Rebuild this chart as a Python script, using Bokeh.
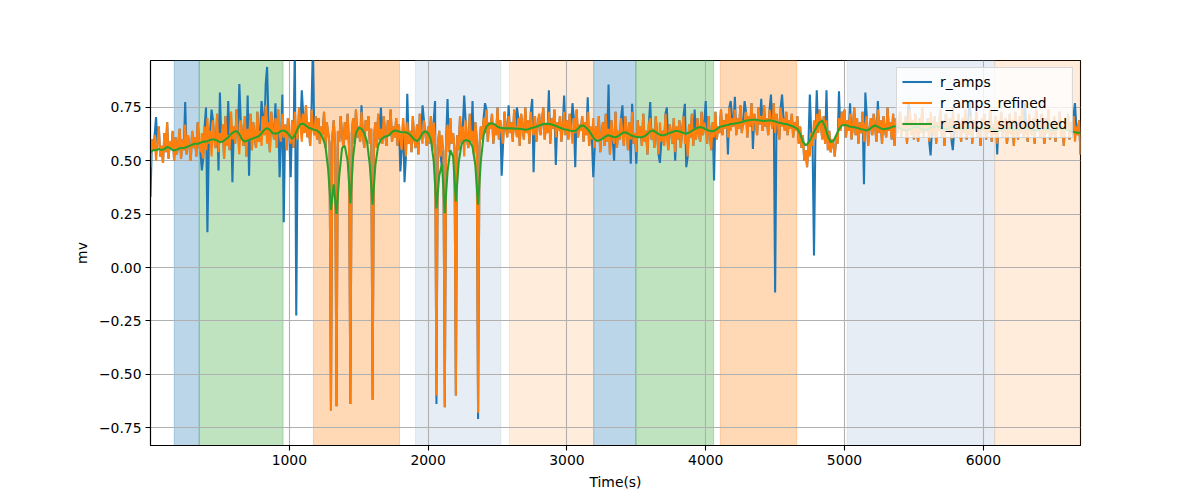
from bokeh.plotting import figure
from bokeh.models import Range1d, BoxAnnotation, FixedTicker
from bokeh.embed import file_html
from bokeh.resources import INLINE

# ---------------- data ----------------
time_s = list(range(0, 6701, 10))          # sample times of r_amps / r_amps_refined
smooth_time_s = list(range(0, 6701, 20))   # sample times of r_amps_smoothed

r_amps_refined = [
    0.47, 0.60, 0.55, 0.62, 0.50, 0.58, 0.66, 0.52, 0.57, 0.49, 0.63, 0.54, 0.68, 0.51, 0.59, 0.56, 0.64, 0.50, 0.61, 0.53,
    0.58, 0.65, 0.51, 0.60, 0.55, 0.67, 0.53, 0.62, 0.57, 0.50, 0.64, 0.56, 0.61, 0.52, 0.68, 0.58, 0.54, 0.63, 0.51, 0.66,
    0.55, 0.70, 0.58, 0.64, 0.52, 0.69, 0.60, 0.56, 0.72, 0.54, 0.63, 0.59, 0.67, 0.51, 0.71, 0.57, 0.62, 0.55, 0.73, 0.60,
    0.66, 0.58, 0.74, 0.61, 0.53, 0.69, 0.63, 0.57, 0.71, 0.52, 0.65, 0.60, 0.72, 0.55, 0.68, 0.62, 0.56, 0.73, 0.59, 0.64,
    0.57, 0.71, 0.62, 0.76, 0.58, 0.68, 0.54, 0.73, 0.65, 0.60, 0.70, 0.56, 0.74, 0.63, 0.59, 0.72, 0.61, 0.67, 0.55, 0.70,
    0.62, 0.58, 0.69, 0.56, 0.73, 0.64, 0.60, 0.75, 0.66, 0.59, 0.72, 0.63, 0.76, 0.61, 0.68, 0.57, 0.74, 0.65, 0.62, 0.71,
    0.60, 0.70, 0.58, 0.66, 0.62, 0.73, 0.56, 0.68, 0.63, 0.58, -0.67, 0.61, 0.69, 0.57, -0.65, 0.64, 0.59, 0.71, 0.62, 0.56,
    0.68, 0.60, 0.72, 0.57, -0.64, 0.63, 0.70, 0.58, 0.74, 0.61, 0.66, 0.59, 0.73, 0.62, 0.56, 0.69, 0.64, 0.71, 0.58, 0.65,
    -0.62, 0.61, 0.68, 0.56, 0.72, 0.60, 0.65, 0.58, 0.71, 0.63, 0.57, 0.69, 0.62, 0.74, 0.59, 0.66, 0.61, 0.70, 0.57, 0.67,
    0.60, 0.55, 0.70, 0.62, 0.52, 0.68, 0.58, 0.64, 0.54, 0.71, 0.60, 0.56, 0.67, 0.53, 0.72, 0.61, 0.58, 0.69, 0.63, 0.57,
    0.66, 0.58, 0.71, 0.55, 0.68, 0.61, -0.60, 0.57, 0.64, 0.52, 0.62, 0.55, -0.655, 0.60, 0.67, 0.54, 0.70, 0.58, 0.63, 0.56,
    -0.60, 0.62, 0.55, 0.71, 0.58, 0.66, 0.52, 0.69, 0.60, 0.56, 0.72, 0.59, 0.64, 0.53, 0.68, 0.61, -0.68, 0.57, 0.66, 0.60,
    0.70, 0.63, 0.74, 0.59, 0.68, 0.65, 0.72, 0.58, 0.67, 0.62, 0.75, 0.60, 0.69, 0.64, 0.58, 0.73, 0.66, 0.61, 0.71, 0.63,
    0.68, 0.59, 0.74, 0.64, 0.61, 0.70, 0.57, 0.72, 0.66, 0.60, 0.75, 0.63, 0.69, 0.58, 0.73, 0.65, 0.62, 0.71, 0.59, 0.67,
    0.72, 0.62, 0.69, 0.75, 0.60, 0.67, 0.63, 0.73, 0.58, 0.70, 0.65, 0.74, 0.61, 0.68, 0.64, 0.71, 0.59, 0.66, 0.73, 0.62,
    0.69, 0.60, 0.72, 0.65, 0.58, 0.70, 0.63, 0.74, 0.61, 0.67, 0.64, 0.71, 0.59, 0.68, 0.62, 0.73, 0.57, 0.66, 0.60, 0.70,
    0.56, 0.66, 0.60, 0.71, 0.54, 0.63, 0.68, 0.57, 0.72, 0.59, 0.65, 0.53, 0.69, 0.61, 0.58, 0.73, 0.56, 0.64, 0.60, 0.70,
    0.62, 0.57, 0.71, 0.64, 0.55, 0.68, 0.60, 0.73, 0.58, 0.63, 0.54, 0.69, 0.61, 0.66, 0.57, 0.72, 0.59, 0.64, 0.53, 0.67,
    0.70, 0.60, 0.65, 0.56, 0.71, 0.62, 0.53, 0.68, 0.59, 0.64, 0.57, 0.72, 0.61, 0.55, 0.67, 0.63, 0.58, 0.70, 0.54, 0.66,
    0.60, 0.69, 0.56, 0.64, 0.71, 0.58, 0.62, 0.52, 0.67, 0.61, 0.72, 0.57, 0.65, 0.60, 0.70, 0.63, 0.59, 0.73, 0.62, 0.68,
    0.64, 0.58, 0.71, 0.62, 0.55, 0.68, 0.61, 0.73, 0.60, 0.66, 0.63, 0.74, 0.62, 0.69, 0.65, 0.72, 0.61, 0.75, 0.64, 0.70,
    0.66, 0.74, 0.62, 0.70, 0.65, 0.76, 0.63, 0.69, 0.67, 0.73, 0.61, 0.71, 0.66, 0.77, 0.64, 0.72, 0.68, 0.62, 0.75, 0.67,
    0.71, 0.64, 0.76, 0.66, 0.70, 0.62, 0.74, 0.68, 0.65, 0.77, 0.63, 0.72, 0.67, 0.60, 0.75, 0.66, 0.70, 0.64, 0.73, 0.62,
    0.69, 0.65, 0.72, 0.61, 0.68, 0.64, 0.71, 0.58, 0.66, 0.56, 0.62, 0.50, 0.55, 0.47, 0.58, 0.52, 0.63, 0.57, 0.69, 0.60,
    0.72, 0.63, 0.74, 0.66, 0.60, 0.71, 0.58, 0.69, 0.55, 0.64, 0.54, 0.60, 0.57, 0.52, 0.62, 0.58, 0.70, 0.64, 0.73, 0.67,
    0.74, 0.61, 0.69, 0.64, 0.72, 0.60, 0.66, 0.75, 0.62, 0.70, 0.58, 0.68, 0.63, 0.73, 0.59, 0.67, 0.71, 0.57, 0.65, 0.70,
    0.62, 0.72, 0.66, 0.59, 0.74, 0.63, 0.69, 0.58, 0.71, 0.65, 0.61, 0.75, 0.64, 0.68, 0.60, 0.72, 0.57, 0.70, 0.63, 0.67,
    0.73, 0.61, 0.68, 0.64, 0.71, 0.58, 0.66, 0.74, 0.62, 0.69, 0.60, 0.72, 0.65, 0.59, 0.70, 0.63, 0.75, 0.61, 0.67, 0.64,
    0.70, 0.59, 0.73, 0.65, 0.62, 0.71, 0.58, 0.68, 0.64, 0.74, 0.61, 0.69, 0.57, 0.72, 0.66, 0.63, 0.70, 0.60, 0.75, 0.64,
    0.68, 0.61, 0.72, 0.65, 0.59, 0.70, 0.63, 0.74, 0.60, 0.67, 0.62, 0.71, 0.58, 0.69, 0.65, 0.73, 0.61, 0.66, 0.57, 0.70,
    0.64, 0.72, 0.60, 0.68, 0.63, 0.74, 0.59, 0.67, 0.62, 0.71, 0.58, 0.69, 0.65, 0.73, 0.61, 0.66, 0.70, 0.58, 0.64, 0.72,
    0.62, 0.69, 0.57, 0.73, 0.65, 0.60, 0.71, 0.63, 0.75, 0.61, 0.68, 0.64, 0.59, 0.72, 0.66, 0.62, 0.70, 0.58, 0.74, 0.65,
    0.69, 0.61, 0.72, 0.64, 0.58, 0.70, 0.63, 0.74, 0.60, 0.67, 0.62, 0.71, 0.59, 0.68, 0.65, 0.73, 0.61, 0.66, 0.57, 0.70,
    0.64, 0.72, 0.60, 0.68, 0.63, 0.71, 0.59, 0.66, 0.62, 0.69, 0.53,
]

# raw r_amps differs from r_amps_refined only at these outlier samples
r_amps_outlier_time = [
    0, 40, 250, 370, 400, 410, 440, 490, 500, 560, 590, 640, 700, 710, 800, 830, 840, 900, 930, 950,
    960, 1010, 1040, 1050, 1090, 1170, 1520, 1660, 1800, 1830, 1850, 1960, 2050, 2060, 2100, 2140, 2260, 2320, 2360, 2410,
    2530, 2580, 2640, 2750, 2760, 2870, 2920, 2980, 3040, 3060, 3150, 3190, 3300, 3340, 3400, 3460, 3470, 3500, 3600, 3670,
    3720, 3780, 3850, 3860, 3920, 4000, 4060, 4160, 4180, 4210, 4280, 4340, 4400, 4470, 4500, 4550, 4750, 4780, 4800, 4870,
    4960, 5040, 5140, 5150, 5240, 5460, 5620, 5780, 5900, 6100, 6300, 6660,
]
r_amps_outlier_value = [
    0.33, 0.705, 0.775, 0.455, 0.75, 0.165, 0.74, 0.455, 0.82, 0.78, 0.40, 0.86, 0.806, 0.43, 0.78, 0.86, 0.94, 0.77, 0.423, 0.81,
    0.212, 0.423, 1.05, -0.225, 0.83, 1.05, 0.76, 0.75, 0.45, 0.40, 0.814, 0.76, 0.78, -0.64, 0.47, 0.79, 0.806, 0.78, -0.71, 0.77,
    0.43, 0.76, 0.75, 0.79, 0.447, 0.83, 0.48, 0.806, 0.77, 0.47, 0.798, 0.423, 0.858, 0.50, 0.76, 0.486, 0.767, 0.486, 0.775, 0.49,
    0.75, 0.50, 0.767, 0.47, 0.74, 0.78, 0.408, 0.53, 0.78, 0.80, 0.78, 0.556, 0.79, 0.81, -0.117, 0.81, 0.81, 0.056, 0.83, 0.83,
    0.826, 0.77, 0.39, 0.82, 0.78, 0.77, 0.525, 0.55, 0.78, 0.53, 0.77, 0.77,
]

r_amps_smoothed = [
    0.54, 0.55, 0.55, 0.555, 0.55, 0.555, 0.565, 0.56, 0.55, 0.55, 0.555, 0.56, 0.56, 0.565, 0.57, 0.575, 0.58, 0.58, 0.585, 0.59,
    0.59, 0.595, 0.6, 0.6, 0.595, 0.587, 0.59, 0.60, 0.61, 0.625, 0.635, 0.64, 0.625, 0.6, 0.59, 0.595, 0.60, 0.605, 0.61, 0.615,
    0.63, 0.645, 0.653, 0.645, 0.63, 0.627, 0.63, 0.64, 0.642, 0.635, 0.62, 0.603, 0.62, 0.65, 0.672, 0.674, 0.665, 0.655, 0.65, 0.645,
    0.642, 0.63, 0.61, 0.57, 0.46, 0.27, 0.39, 0.25, 0.43, 0.56, 0.57, 0.5, 0.30, 0.52, 0.63, 0.655, 0.65, 0.63, 0.59, 0.48,
    0.295, 0.48, 0.57, 0.60, 0.61, 0.615, 0.62, 0.635, 0.642, 0.64, 0.635, 0.634, 0.634, 0.628, 0.615, 0.60, 0.592, 0.605, 0.63, 0.639,
    0.63, 0.60, 0.50, 0.277, 0.43, 0.486, 0.255, 0.45, 0.55, 0.52, 0.31, 0.49, 0.575, 0.595, 0.597, 0.59, 0.565, 0.48, 0.295, 0.50,
    0.62, 0.66, 0.672, 0.676, 0.67, 0.66, 0.655, 0.653, 0.652, 0.652, 0.652, 0.651, 0.65, 0.65, 0.648, 0.645, 0.648, 0.652, 0.656, 0.66,
    0.665, 0.67, 0.673, 0.674, 0.672, 0.668, 0.663, 0.658, 0.652, 0.648, 0.645, 0.642, 0.64, 0.64, 0.65, 0.664, 0.665, 0.655, 0.64, 0.62,
    0.6, 0.592, 0.598, 0.605, 0.615, 0.62, 0.615, 0.61, 0.612, 0.62, 0.63, 0.634, 0.628, 0.62, 0.615, 0.612, 0.61, 0.61, 0.615, 0.625,
    0.638, 0.642, 0.635, 0.625, 0.62, 0.62, 0.625, 0.63, 0.635, 0.64, 0.64, 0.635, 0.63, 0.628, 0.632, 0.64, 0.648, 0.655, 0.658, 0.655,
    0.648, 0.642, 0.639, 0.64, 0.648, 0.658, 0.662, 0.665, 0.668, 0.672, 0.674, 0.676, 0.678, 0.682, 0.686, 0.689, 0.691, 0.692, 0.692, 0.69,
    0.688, 0.687, 0.688, 0.69, 0.688, 0.684, 0.68, 0.677, 0.674, 0.672, 0.668, 0.663, 0.658, 0.65, 0.627, 0.59, 0.572, 0.585, 0.608, 0.635,
    0.66, 0.68, 0.688, 0.66, 0.615, 0.588, 0.592, 0.62, 0.648, 0.665, 0.668, 0.665, 0.66, 0.658, 0.656, 0.652, 0.648, 0.645, 0.642, 0.648,
    0.66, 0.665, 0.66, 0.652, 0.648, 0.65, 0.652, 0.658, 0.662, 0.66, 0.652, 0.645, 0.642, 0.645, 0.652, 0.658, 0.66, 0.655, 0.648, 0.645,
    0.648, 0.655, 0.66, 0.662, 0.658, 0.652, 0.648, 0.65, 0.655, 0.66, 0.658, 0.652, 0.648, 0.65, 0.655, 0.658, 0.655, 0.65, 0.646, 0.648,
    0.652, 0.656, 0.655, 0.65, 0.645, 0.64, 0.642, 0.648, 0.652, 0.655, 0.652, 0.648, 0.645, 0.648, 0.652, 0.655, 0.652, 0.648, 0.645, 0.642,
    0.645, 0.65, 0.652, 0.65, 0.646, 0.643, 0.645, 0.65, 0.652, 0.65, 0.645, 0.64, 0.636, 0.634, 0.632, 0.63,
]

# shaded time segments: start, end, kind
seg_start = [171, 351, 1174, 1909, 2586, 3193, 3497, 4105, 5019, 6082]
seg_end = [351, 955, 1794, 2524, 3193, 3497, 4057, 4656, 6082, 6700]
seg_kind = ["blue", "green", "orange", "lightblue", "lightorange",
            "blue", "green", "orange", "lightblue", "lightorange"]

x_ticks = [1000, 2000, 3000, 4000, 5000, 6000]
y_ticks = [-0.75, -0.5, -0.25, 0.0, 0.25, 0.5, 0.75]
y_tick_labels = ["\u22120.75", "\u22120.50", "\u22120.25", "0.00", "0.25", "0.50", "0.75"]

# ---------------- build raw series ----------------
n = min(len(time_s), len(r_amps_refined))
t_main = time_s[:n]
refined = r_amps_refined[:n]
r_amps = list(refined)
for t, v in zip(r_amps_outlier_time, r_amps_outlier_value):
    if t in t_main:
        r_amps[t_main.index(t)] = v
m = min(len(smooth_time_s), len(r_amps_smoothed))

# ---------------- style ----------------
KIND_STYLE = {
    "blue": ("#1f77b4", 0.3),
    "green": ("#2ca02c", 0.3),
    "orange": ("#ff7f0e", 0.3),
    "lightblue": ("#b0c4de", 0.3),
    "lightorange": ("#ff7f0e", 0.15),
}
FONT = "DejaVu Sans"
LW = 2.08      # 1.5 pt at 100 dpi
FS = "13.9px"  # 10 pt at 100 dpi

p = figure(width=1200, height=500, output_backend="svg", toolbar_location=None,
           x_range=Range1d(0, 6700), y_range=Range1d(-0.834, 0.970),
           min_border_left=150, min_border_right=120,
           min_border_top=60, min_border_bottom=55,
           background_fill_color="white", border_fill_color="white")

for s, e, k in zip(seg_start, seg_end, seg_kind):
    c, a = KIND_STYLE[k]
    p.add_layout(BoxAnnotation(left=s, right=e, fill_color=c, fill_alpha=a,
                               line_color=c, line_alpha=a, line_width=1,
                               level="image"))

p.line(t_main, r_amps, color="#1f77b4", line_width=LW, legend_label="r_amps")
p.line(t_main, refined, color="#ff7f0e", line_width=LW, legend_label="r_amps_refined")
p.line(smooth_time_s[:m], r_amps_smoothed[:m], color="#2ca02c", line_width=LW,
       legend_label="r_amps_smoothed")

p.outline_line_color = "black"
p.outline_line_width = 1.1
p.outline_line_alpha = 1

p.xaxis.ticker = FixedTicker(ticks=x_ticks)
p.yaxis.ticker = FixedTicker(ticks=y_ticks)
p.yaxis.major_label_overrides = {t: l for t, l in zip(y_ticks, y_tick_labels)}
p.xaxis.major_label_overrides = {t: str(t) for t in x_ticks}

for ax in (p.xaxis, p.yaxis):
    ax.axis_line_color = "black"
    ax.axis_line_width = 1.1
    ax.major_tick_line_color = "black"
    ax.major_tick_line_width = 1.1
    ax.major_tick_out = 5
    ax.major_tick_in = 0
    ax.minor_tick_line_color = None
    ax.major_label_text_font = FONT
    ax.major_label_text_font_size = FS
    ax.major_label_text_color = "black"
    ax.major_label_standoff = 4
    ax.axis_label_text_font = FONT
    ax.axis_label_text_font_size = FS
    ax.axis_label_text_font_style = "normal"
    ax.axis_label_text_color = "black"
    ax.axis_label_standoff = 6

p.xaxis.axis_label = "Time(s)"
p.yaxis.axis_label = "mv"

p.grid.grid_line_color = "#b0b0b0"
p.grid.grid_line_width = 1.1
p.xgrid.ticker = FixedTicker(ticks=x_ticks)
p.ygrid.ticker = FixedTicker(ticks=y_ticks)

lg = p.legend[0]
lg.location = "top_right"
lg.margin = 7
lg.padding = 5
lg.spacing = 4
lg.glyph_width = 30
lg.glyph_height = 17
lg.label_height = 17
lg.label_standoff = 8
lg.label_text_font = FONT
lg.label_text_font_size = FS
lg.label_text_color = "black"
lg.background_fill_color = "white"
lg.background_fill_alpha = 0.8
lg.border_line_color = "#cccccc"
lg.border_line_alpha = 0.8
lg.border_line_width = 1

open("out.html", "w").write(file_html(p, INLINE))
